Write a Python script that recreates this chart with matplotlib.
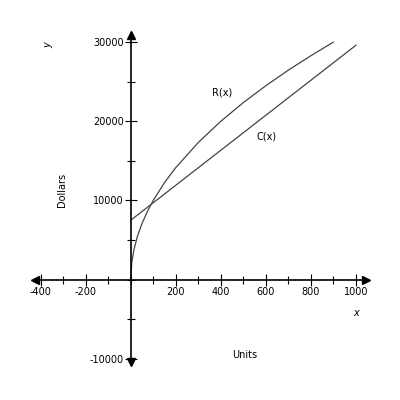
import matplotlib.pyplot as plt
import numpy as np

r_x = [0, 5, 15, 30, 50, 75, 100, 150, 200, 300, 400, 500, 600, 700, 800, 900]
r_y = [0, 2240, 3870, 5480, 7070, 8660, 10000, 12250, 14140, 17320, 20000, 22360, 24490, 26460, 28280, 30000]
c_x = [0, 1000]
c_y = [7500, 29600]
xticks = [-400, -200, 200, 400, 600, 800, 1000]
yticks = [-10000, 10000, 20000, 30000]

fig = plt.figure(figsize=(4, 4), dpi=100)
ax = fig.add_axes([35/400, 38/400, 331/400, 327/400])
xl, yl = (-425, 1045), (-10400, 30900)
ax.set_xlim(*xl); ax.set_ylim(*yl)
for s in ['top', 'right']:
    ax.spines[s].set_visible(False)
ax.spines['left'].set_position(('data', 0))
ax.spines['bottom'].set_position(('data', 0))
for s in ['left', 'bottom']:
    ax.spines[s].set_linewidth(1.2)
ax.plot(r_x, r_y, color='#444444', lw=0.9)
ax.plot(c_x, c_y, color='#444444', lw=0.9)
ax.set_xticks(xticks)
ax.set_xticks(np.arange(-400, 1001, 100), minor=True)
ax.set_yticks(yticks)
ax.set_yticks(np.arange(-10000, 30001, 5000), minor=True)
ax.set_xticklabels([str(v) for v in xticks], fontsize=7)
ax.set_yticklabels([str(v) for v in yticks], fontsize=7)
ax.tick_params(which='both', direction='inout', length=8, width=0.8, pad=1)
ax.tick_params(which='minor', length=6)
# arrows
ax.plot(xl[1], 0, '>k', ms=6, clip_on=False)
ax.plot(xl[0], 0, '<k', ms=6, clip_on=False)
ax.plot(0, yl[1], '^k', ms=6, clip_on=False)
ax.plot(0, yl[0], 'vk', ms=6, clip_on=False)
ax.text(360, 23300, 'R(x)', fontsize=7)
ax.text(560, 17700, 'C(x)', fontsize=7)
fig.text(48/400, 1-45/400, 'y', fontsize=7, style='italic', rotation=90, ha='center', va='center')
fig.text(356/400, 1-313/400, 'x', fontsize=7, style='italic', ha='center', va='center')
fig.text(62/400, 1-190/400, 'Dollars', fontsize=7, rotation=90, ha='center', va='center')
fig.text(245/400, 1-355/400, 'Units', fontsize=7, ha='center', va='center')
fig.savefig('out.png', dpi=100)
